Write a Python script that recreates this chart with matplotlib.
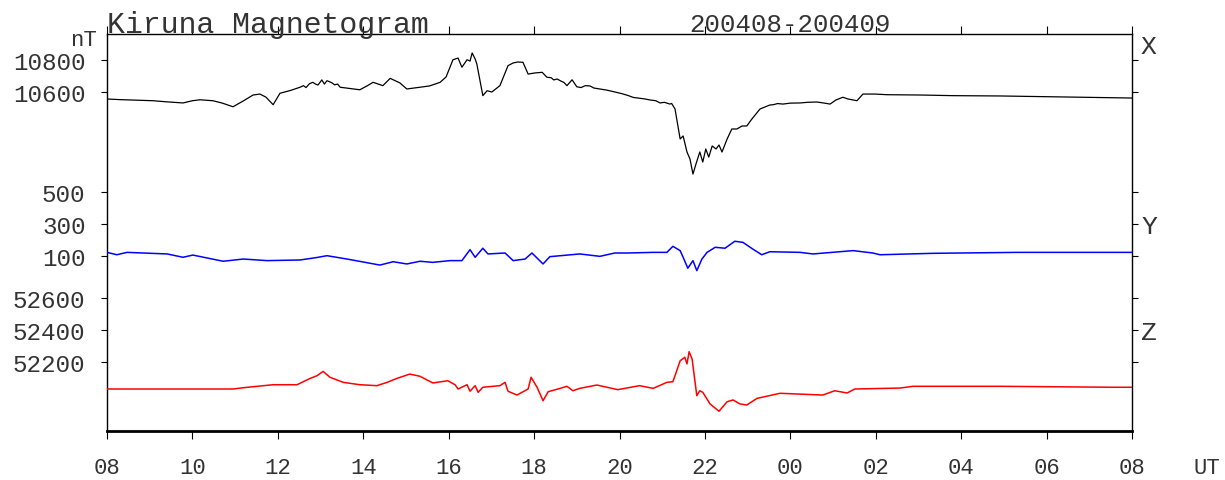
import matplotlib
matplotlib.use("Agg")
import matplotlib.pyplot as plt

# ---- data (hours after 08 UT, nT) ----
x_t = [0.00, 0.30, 0.54, 0.80, 1.08, 1.40, 1.78, 2.00, 2.18, 2.48, 2.70, 2.95, 3.20, 3.42, 3.58,
       3.72, 3.89, 4.05, 4.30, 4.52, 4.60, 4.66, 4.74, 4.82, 4.88, 4.94, 5.03, 5.09, 5.15, 5.20,
       5.27, 5.33, 5.40, 5.46, 5.70, 5.92, 6.10, 6.23, 6.46, 6.63, 6.86, 7.02, 7.33, 7.55, 7.80,
       7.94, 8.10, 8.22, 8.31, 8.43, 8.50, 8.55, 8.62, 8.66, 8.80, 8.90, 9.01, 9.20, 9.39, 9.51,
       9.62, 9.74, 9.86, 10.02, 10.19, 10.30, 10.40, 10.46, 10.54, 10.62, 10.70, 10.77, 10.89,
       11.00, 11.10, 11.20, 11.31, 11.40, 11.54, 11.70, 11.89, 12.05, 12.20, 12.32, 12.50, 12.60,
       12.71, 12.85, 12.95, 13.05, 13.18, 13.22, 13.30, 13.42, 13.49, 13.58, 13.65, 13.72, 13.79,
       13.88, 13.95, 14.02, 14.09, 14.17, 14.26, 14.33, 14.40, 14.52, 14.63, 14.75, 14.87, 14.98,
       15.10, 15.29, 15.52, 15.60, 15.70, 15.83, 16.00, 16.23, 16.40, 16.62, 16.80, 16.93, 17.07,
       17.23, 17.35, 17.56, 17.70, 17.98, 18.26, 19.04, 19.81, 20.91, 22.15, 23.25, 24.00]
x_v = [10556, 10552, 10550, 10548, 10545, 10538, 10531, 10545, 10551, 10545, 10530, 10507, 10545, 10581, 10587,
       10568, 10520, 10592, 10610, 10630, 10640, 10628, 10652, 10661, 10650, 10644, 10676, 10650, 10671, 10666,
       10657, 10645, 10650, 10630, 10622, 10614, 10640, 10661, 10640, 10686, 10657, 10619, 10630, 10638, 10661,
       10695, 10803, 10814, 10756, 10803, 10795, 10846, 10808, 10776, 10577, 10608, 10600, 10640, 10766, 10783,
       10789, 10787, 10713, 10720, 10724, 10693, 10690, 10676, 10682, 10670, 10660, 10640, 10677,
       10633, 10628, 10640, 10638, 10625, 10619, 10612, 10600, 10590, 10578, 10566, 10560, 10556,
       10550, 10545, 10531, 10535, 10524, 10528, 10493, 10304, 10323, 10222, 10178, 10083, 10146,
       10222, 10159, 10241, 10190, 10260, 10241, 10266, 10222, 10304, 10367, 10367, 10386, 10386,
       10430, 10493, 10518, 10520, 10527, 10524, 10530, 10531, 10535, 10537, 10530, 10524, 10550,
       10567, 10556, 10545, 10587, 10587, 10583, 10581, 10577, 10575, 10570, 10565, 10562]

y_t = [0.00, 0.23, 0.47, 1.41, 1.78, 2.01, 2.72, 3.19, 3.75, 4.52, 4.90, 5.15, 5.62, 6.39, 6.70,
       7.02, 7.33, 7.63, 8.03, 8.31, 8.50, 8.62, 8.80, 8.92, 9.32, 9.51, 9.79, 9.95, 10.21, 10.37,
       11.07, 11.54, 11.89, 12.19, 12.79, 13.11, 13.25, 13.42, 13.49, 13.60, 13.72, 13.81, 13.93,
       14.05, 14.24, 14.47, 14.70, 14.89, 15.12, 15.33, 15.52, 16.23, 16.53, 17.47, 17.93, 18.10,
       19.34, 21.31, 23.55, 24.00]
y_v = [121, 106, 121, 111, 90, 104, 65, 79, 69, 73, 88, 100, 79, 41, 62,
       48, 65, 58, 69, 69, 138, 90, 147, 111, 117, 69, 79, 117, 48, 94,
       111, 96, 117, 117, 121, 121, 159, 132, 90, 21, 69, 6, 79,
       121, 153, 147, 191, 184, 142, 106, 125, 121, 111, 132, 117, 106,
       115, 121, 121, 121]

z_t = [0.00, 1.40, 2.95, 3.19, 3.89, 4.45, 4.76, 4.92, 5.06, 5.22, 5.53, 5.92, 6.32, 6.56, 6.79,
       7.09, 7.33, 7.63, 7.98, 8.15, 8.22, 8.43, 8.50, 8.62, 8.69, 8.80, 9.20, 9.32, 9.39, 9.60,
       9.86, 9.93, 10.07, 10.21, 10.33, 10.61, 10.77, 10.91, 11.07, 11.47, 11.96, 12.47, 12.79,
       13.11, 13.25, 13.30, 13.42, 13.53, 13.58, 13.63, 13.70, 13.81, 13.88, 13.95, 14.12, 14.33,
       14.52, 14.66, 14.82, 14.98, 15.22, 15.76, 16.76, 17.04, 17.33, 17.51, 18.57, 18.87, 20.91,
       23.55, 24.00]
z_v = [52028, 52028, 52028, 52036, 52055, 52055, 52095, 52112, 52139, 52102, 52070, 52055, 52049, 52070, 52095,
       52122, 52108, 52066, 52080, 52055, 52028, 52055, 52014, 52049, 52007, 52039, 52049, 52070, 52014, 51990,
       52028, 52102, 52039, 51954, 52011, 52032, 52045, 52017, 52032, 52053, 52024, 52049, 52032,
       52070, 52074, 52112, 52206, 52228, 52186, 52263, 52217, 51986, 52017, 52007, 51934, 51888,
       51948, 51959, 51934, 51927, 51969, 52001, 51990, 52017, 52003, 52028, 52034, 52045, 52045,
       52039, 52039]

xtick_pos = list(range(0, 25, 2))
xtick_labels = ["08", "10", "12", "14", "16", "18", "20", "22", "00", "02", "04", "06", "08"]
x_ticks_y = [10600, 10800]
y_ticks_y = [100, 300, 500]
z_ticks_y = [52200, 52400, 52600]

# ---- layout ----
W, H = 1225, 481
FONT = "Liberation Mono"
TXT = "#333333"
fig = plt.figure(figsize=(W / 100, H / 100), dpi=100)
rect = [107 / W, (H - 432) / H, 1025 / W, 397 / H]

scale = 6.3  # nT per pixel
def lims(val, ypix):
    top = val + (ypix - 35) * scale
    bot = val - (432 - ypix) * scale
    return bot, top

axX = fig.add_axes(rect)
axY = fig.add_axes(rect, facecolor="none")
axZ = fig.add_axes(rect, facecolor="none")

axX.plot(x_t, x_v, color="black", lw=0.9)
axY.plot(y_t, y_v, color="#0000ff", lw=1.1)
axZ.plot(z_t, z_v, color="#ff0000", lw=1.1)

axX.set_ylim(*lims(10600, 93))
axY.set_ylim(*lims(100, 256.7))
axZ.set_ylim(*lims(52200, 362.7))

for ax, ticks in ((axX, x_ticks_y), (axY, y_ticks_y), (axZ, z_ticks_y)):
    ax.set_xlim(0, 24)
    ax.set_yticks(ticks)
    ax.set_yticklabels([str(t) for t in ticks], fontfamily=FONT, fontsize=17.5, color=TXT)
    ax.tick_params(axis="y", left=True, right=True, labelleft=True, labelright=False,
                   direction="out", length=4.5, width=0.8, pad=11)

for ax in (axY, axZ):
    for s in ax.spines.values():
        s.set_visible(False)
    ax.set_xticks([])

axX.set_xticks(xtick_pos)
axX.set_xticklabels(xtick_labels, fontfamily=FONT, fontsize=16, color=TXT)
axX.tick_params(axis="x", bottom=True, top=True, direction="out", length=5.5, width=0.8, pad=13)
for side in ("left", "right", "top"):
    axX.spines[side].set_linewidth(1.0)
axX.spines["bottom"].set_linewidth(2.0)

def px(x, y):
    return x / W, 1 - y / H

fig.text(*px(107, 33), "Kiruna Magnetogram", fontfamily=FONT, fontsize=21.5,
         ha="left", va="baseline", color=TXT)
fig.text(*px(790, 32), "200408-200409", fontfamily=FONT, fontsize=18.5,
         ha="center", va="baseline", color=TXT)
fig.text(*px(97, 40), "nT", fontfamily=FONT, fontsize=16, ha="right", va="center", color=TXT)
fig.text(*px(1207, 469), "UT", fontfamily=FONT, fontsize=16, ha="center", va="center", color=TXT)
for lab, yy in (("X", 47), ("Y", 227), ("Z", 333)):
    fig.text(*px(1141, yy), lab, fontfamily=FONT, fontsize=19, ha="left", va="center", color=TXT)

fig.savefig("out.png", dpi=100)
